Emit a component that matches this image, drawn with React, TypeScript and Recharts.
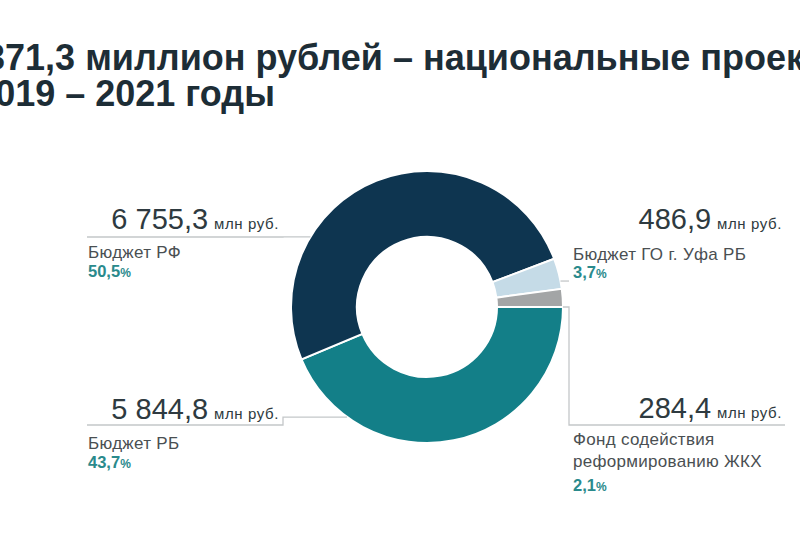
import { PieChart, Pie, Cell } from 'recharts';

const sources = ['Бюджет РБ', 'Бюджет РФ', 'Бюджет ГО г. Уфа РБ', 'Фонд содействия реформированию ЖКХ'];
const amounts = [5844.8, 6755.3, 486.9, 284.4];
const amountLabels = ['5 844,8', '6 755,3', '486,9', '284,4'];
const shareLabels = ['43,7', '50,5', '3,7', '2,1'];
const nameLines = [['Бюджет РБ'], ['Бюджет РФ'], ['Бюджет ГО г. Уфа РБ'], ['Фонд содействия', 'реформированию ЖКХ']];
const colors = ['#137f88', '#0e3550', '#c5dbe7', '#a3a5a6'];

const titleLines = ['13 371,3 миллион рублей – национальные проекты', 'в 2019 – 2021 годы'];

const data = sources.map((name, i) => ({ name, value: amounts[i] }));

// where each callout sits (angle on the ring, elbow, text block)
const layout = [
  { angle: 234, side: 'left', elbowX: 283, lineY: 425, valueY: 419, textY: 449, shareY: 468 },
  { angle: 149, side: 'left', elbowX: 283, lineY: 237, valueY: 229, textY: 258, shareY: 277 },
  { angle: 11, side: 'right', elbowX: 569, lineY: 0, valueY: 229, textY: 260, shareY: 278 },
  { angle: 0, side: 'right', elbowX: 569, lineY: 425, valueY: 418, textY: 445, shareY: 491 },
];

const FONT = '"Liberation Sans", Arial, sans-serif';
const RAD = Math.PI / 180;

function Callout(props: any) {
  const { cx, cy, outerRadius, index } = props;
  const l = layout[index];
  const sx = cx + outerRadius * Math.cos(l.angle * RAD);
  const sy = cy - outerRadius * Math.sin(l.angle * RAD);
  const left = l.side === 'left';
  const textX = left ? 88 : 573;
  let path = '';
  if (left) {
    path = `M${sx},${sy} H${l.elbowX} V${l.lineY} H87`;
  } else if (l.lineY) {
    path = `M${sx},${sy} H${l.elbowX} V${l.lineY} H785`;
  } else {
    path = `M${sx},${sy} H${l.elbowX}`;
  }
  const lines = nameLines[index];
  return (
    <g fontFamily={FONT}>
      <path d={path} fill="none" stroke="#c4c7c9" strokeWidth={1.3} />
      <text x={left ? 279 : 782} y={l.valueY} textAnchor="end" fill="#2e3a40">
        <tspan fontSize={29}>{amountLabels[index]}</tspan>
        <tspan fontSize={15} dx={6} letterSpacing={0.6}>млн руб.</tspan>
      </text>
      {lines.map((t, k) => (
        <text key={k} x={textX} y={l.textY + k * 22} fontSize={17} letterSpacing={0.3} fill="#4a4f52">
          {t}
        </text>
      ))}
      <text x={textX} y={l.shareY} fontSize={16.5} fontWeight="bold" fill="#2a8a8c">
        {shareLabels[index]}
        <tspan fontSize={12}>%</tspan>
      </text>
    </g>
  );
}

export default function App() {
  return (
    <div style={{ position: 'absolute', left: 0, top: 0, width: 800, height: 533, background: '#fff', overflow: 'hidden' }}>
      <svg width={800} height={120} style={{ position: 'absolute', left: 0, top: 0 }}>
        <text x={-65} y={70} fontFamily={FONT} fontWeight="bold" fontSize={36} fill="#1d2d36">
          {titleLines[0]}
        </text>
        <text x={-57} y={106} fontFamily={FONT} fontWeight="bold" fontSize={36} fill="#1d2d36">
          {titleLines[1]}
        </text>
      </svg>
      <div style={{ position: 'absolute', left: 0, top: 0 }}>
        <PieChart width={800} height={533}>
          <Pie
            data={data}
            dataKey="value"
            nameKey="name"
            cx={422}
            cy={302}
            innerRadius={70}
            outerRadius={136}
            startAngle={0}
            endAngle={-360}
            stroke="#ffffff"
            strokeWidth={2}
            label={Callout}
            labelLine={false}
            isAnimationActive={false}
          >
            {data.map((d, i) => (
              <Cell key={d.name} fill={colors[i]} />
            ))}
          </Pie>
        </PieChart>
      </div>
    </div>
  );
}
